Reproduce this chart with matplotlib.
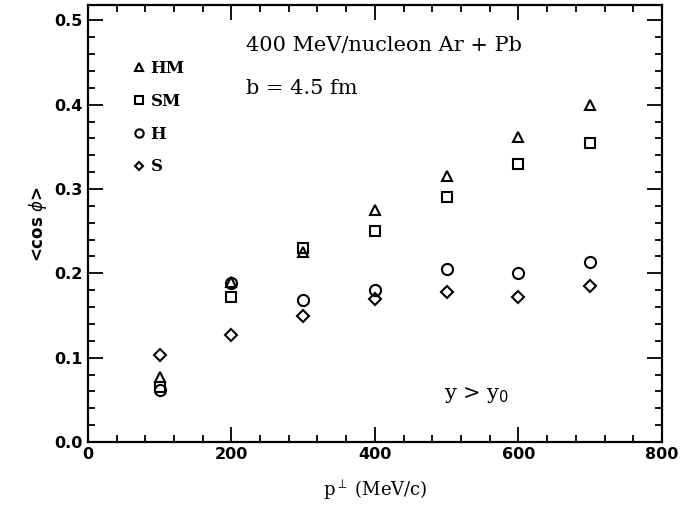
import numpy as np
import matplotlib
matplotlib.use('Agg')
import matplotlib.pyplot as plt
from matplotlib.ticker import MultipleLocator

# p_perp (MeV/c)
pt = [100, 200, 300, 400, 500, 600, 700]

hm = [0.077, 0.190, 0.225, 0.275, 0.315, 0.362, 0.400]
sm = [0.065, 0.172, 0.230, 0.250, 0.290, 0.330, 0.355]
h = [0.062, 0.188, 0.168, 0.180, 0.205, 0.200, 0.213]
s = [0.103, 0.127, 0.150, 0.170, 0.178, 0.172, 0.185]

labels = ['HM', 'SM', 'H', 'S']
markers = ['^', 's', 'o', 'D']
sizes = [7, 7, 8, 6]

fig = plt.figure(figsize=(6.81, 5.2), dpi=100)
ax = fig.add_axes([0.129, 0.15, 0.843, 0.84])

for ys, lab, m, ms in zip([hm, sm, h, s], labels, markers, sizes):
    ax.plot(pt, ys, linestyle='none', marker=m, ms=ms, mfc='none',
            mec='black', mew=1.5, label=lab)

ax.set_xlim(0, 800)
ax.set_ylim(0, 0.518)
ax.xaxis.set_major_locator(MultipleLocator(200))
ax.xaxis.set_minor_locator(MultipleLocator(40))
ax.yaxis.set_minor_locator(MultipleLocator(0.02))
ax.tick_params(which='both', direction='in', top=True, right=True, width=1.3)
ax.tick_params(which='major', length=11, labelsize=11.5)
ax.tick_params(which='minor', length=5)
ax.set_yticks([0, 0.1, 0.2, 0.3, 0.4, 0.5])
ax.set_yticklabels(['0.0', '0.1', '0.2', '0.3', '0.4', '0.5'])
for lbl in ax.get_xticklabels() + ax.get_yticklabels():
    lbl.set_fontweight('bold')
for sp in ax.spines.values():
    sp.set_linewidth(1.6)

ax.set_xlabel(r'p$^{\perp}$ (MeV/c)', family='DejaVu Serif', fontsize=13, labelpad=12)
ax.set_ylabel(r'<cos $\phi$>', fontweight='bold', fontsize=12, labelpad=4)

# legend sits inside the frame, top left, no box
ax.legend(loc='upper left', bbox_to_anchor=(0.063, 0.89), frameon=False,
          prop={'family': 'DejaVu Serif', 'size': 12, 'weight': 'bold'},
          handletextpad=0.2, labelspacing=0.95, handlelength=1.0,
          borderaxespad=0, markerscale=0.75)

ax.text(0.276, 0.908, '400 MeV/nucleon Ar + Pb', transform=ax.transAxes,
        family='DejaVu Serif', fontsize=15, va='center')
ax.text(0.276, 0.81, 'b = 4.5 fm', transform=ax.transAxes,
        family='DejaVu Serif', fontsize=15, va='center')
ax.text(0.62, 0.107, r'y > y$_0$', transform=ax.transAxes,
        family='DejaVu Serif', fontsize=15, va='center')

fig.savefig('out.png', dpi=100)
